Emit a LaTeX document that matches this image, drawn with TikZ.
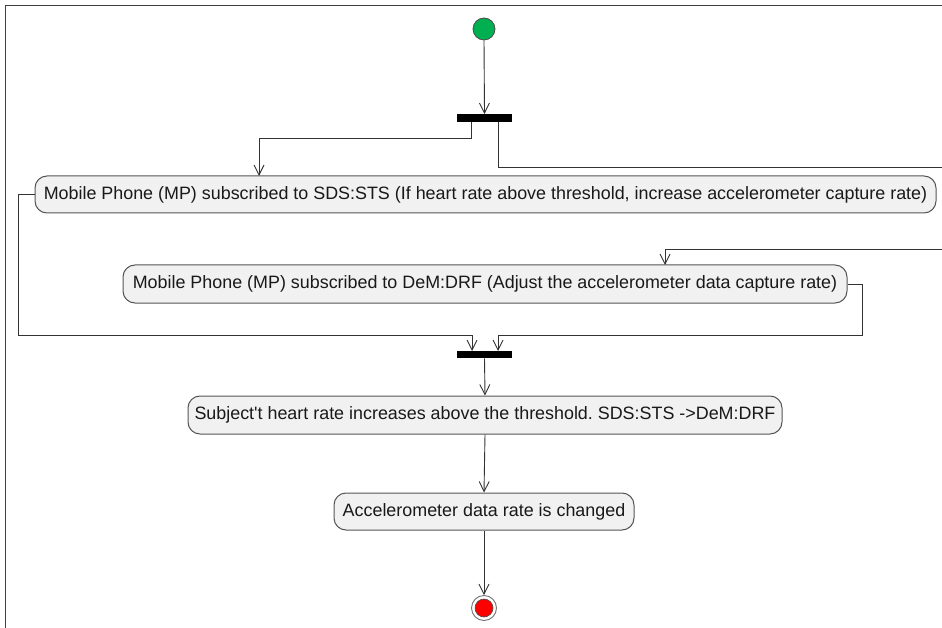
\documentclass[tikz,border=0pt]{standalone}
\usepackage{fontspec}
\setmainfont{Liberation Sans}[Ligatures=TeXOff]
\frenchspacing
\usetikzlibrary{arrows.meta}
\definecolor{actfill}{HTML}{F1F1F1}
\definecolor{actline}{HTML}{555555}
\definecolor{flow}{HTML}{333333}
\definecolor{startgreen}{HTML}{00B050}
\definecolor{endred}{HTML}{FF0000}
\tikzset{
  action/.style={draw=actline, fill=actfill, line width=1pt, rounded corners=12pt,
    inner sep=0pt, font=\fontsize{17.9}{20}\selectfont, text=black!90},
  bar/.style={fill=black, draw=none, minimum width=55pt, minimum height=7.5pt, inner sep=0pt},
  flowline/.style={draw=flow, line width=0.9pt},
  arr/.style={flowline, -{Straight Barb[length=10pt, width=10pt, line width=0.9pt]}},
}
\begin{document}
\begin{tikzpicture}[x=1pt, y=-1pt]
  \useasboundingbox (0,0) rectangle (942,628);
  \clip (0,0) rectangle (942,628);
  % outer frame (only top and left edges fall inside the page)
  \draw[line width=1pt, draw=black!75] (5,640) -- (5,6) -- (960,6);

  % initial and final states
  \node[circle, fill=startgreen, draw=black!70, line width=0.8pt, minimum size=22pt, inner sep=0pt] (start) at (484,29) {};
  \node[circle, fill=white, draw=black!55, line width=0.9pt, minimum size=25pt, inner sep=0pt] (stop) at (484,608) {};
  \node[circle, fill=endred, draw=black!70, line width=0.6pt, minimum size=18pt, inner sep=0pt] at (stop) {};

  % fork and join bars
  \node[bar] (fork) at (484.5,118) {};
  \node[bar] (join) at (484.5,354.5) {};

  % actions
  \node[action, minimum width=901pt, minimum height=37pt] (a1) at (485.5,194.5)
    {Mobile Phone (MP) subscribed to SDS:STS (If heart rate above threshold, increase accelerometer capture rate)};
  \node[action, minimum width=724pt, minimum height=38pt] (a2) at (485,284)
    {Mobile Phone (MP) subscribed to DeM:DRF (Adjust the accelerometer data capture rate)};
  \node[action, minimum width=594pt, minimum height=38pt] (a3) at (485,415)
    {Subject't heart rate increases above the threshold. SDS:STS ->DeM:DRF};
  \node[action, minimum width=300pt, minimum height=37pt] (a4) at (484,511.5)
    {Accelerometer data rate is changed};

  % routing points
  \coordinate (f1) at (471,122);
  \coordinate (f2) at (498,122);
  \coordinate (j1) at (472,351);
  \coordinate (j2) at (498,351);
  \coordinate (a1top) at (259,176);
  \coordinate (a2top) at (665,265);
  \coordinate (farright1) at (960,167);
  \coordinate (farright2) at (960,249);

  % flow
  \draw[arr] (start.south) -- (fork.north);
  \draw[arr] (f1) |- (259,138) -- (a1top);
  \draw[arr] (f2) |- (farright1) -- (farright2) -| (a2top);
  \draw[arr] (a1.west) -- (18,194.5) |- (472,335) -- (j1);
  \draw[arr] (a2.east) -- (862,284) |- (498,335) -- (j2);
  \draw[arr] (join.south) -- (a3.north);
  \draw[arr] (a3.south) -- (a4.north);
  \draw[arr] (a4.south) -- (stop.north);
\end{tikzpicture}
\end{document}
